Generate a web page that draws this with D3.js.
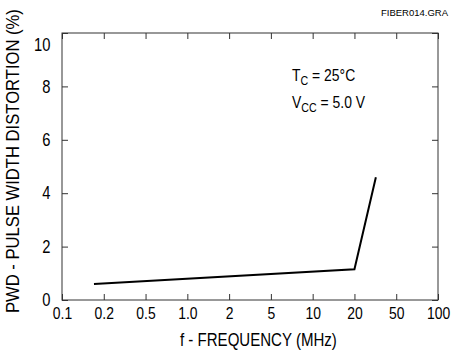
<!DOCTYPE html>
<html lang="en">
<head>
    <meta charset="UTF-8">
    <title>PWD vs Frequency</title>
    <script src="https://d3js.org/d3.v7.min.js"></script>
    <style>
        body {
            margin: 0;
            background-color: #ffffff;
        }
        svg {
            display: block;
            font-family: "Liberation Sans", Arial, Helvetica, sans-serif;
        }
    </style>
</head>
<body>
    <div id="chart"></div>
    <script>
        // tick values on the (log-ish, equally spaced) frequency axis
        const freqTicks = [0.1, 0.2, 0.5, 1, 2, 5, 10, 20, 50, 100];
        const freqLabels = ["0.1", "0.2", "0.5", "1.0", "2", "5", "10", "20", "50", "100"];
        const pwdTicks = [0, 2, 4, 6, 8, 10];

        // curve
        const freqMHz = [0.17, 20, 32];
        const pwdPct = [0.6, 1.15, 4.6];

        const width = 454, height = 351;
        const margin = {top: 33, right: 16, bottom: 51, left: 62};
        const innerW = width - margin.left - margin.right;
        const innerH = height - margin.top - margin.bottom;
        const narrow = "scale(0.82,1)"; // fake a condensed face

        const svg = d3.select("#chart").append("svg")
            .attr("width", width)
            .attr("height", height);

        const g = svg.append("g")
            .attr("transform", `translate(${margin.left},${margin.top})`);

        // each decade step gets the same width, log in between
        const x = d3.scaleLog()
            .domain(freqTicks)
            .range(freqTicks.map((d, i) => i * innerW / (freqTicks.length - 1)));

        const y = d3.scaleLinear()
            .domain([0, 10])
            .range([innerH, 0]);

        const tick = 6;

        const xBottom = g.append("g")
            .attr("transform", `translate(0,${innerH})`)
            .call(d3.axisBottom(x).tickValues(freqTicks)
                .tickFormat((d, i) => freqLabels[i])
                .tickSize(-tick).tickPadding(7));

        g.append("g")
            .call(d3.axisTop(x).tickValues(freqTicks).tickFormat("").tickSize(-tick));

        const yLeft = g.append("g")
            .call(d3.axisLeft(y).tickValues(pwdTicks).tickSize(-tick).tickPadding(14));

        g.append("g")
            .attr("transform", `translate(${innerW},0)`)
            .call(d3.axisRight(y).tickValues(pwdTicks).tickFormat("").tickSize(-tick));

        g.selectAll(".domain").remove();
        g.selectAll(".tick line").attr("stroke", "#333");

        xBottom.selectAll("text")
            .attr("font-size", 17)
            .attr("fill", "#000")
            .attr("transform", narrow);

        yLeft.selectAll("text")
            .attr("font-size", 18)
            .attr("fill", "#000")
            .attr("transform", narrow);
        // top label sits a bit lower than its tick
        yLeft.selectAll(".tick").filter(d => d === 10).select("text").attr("dy", "0.95em");

        // frame
        g.append("rect")
            .attr("width", innerW)
            .attr("height", innerH)
            .attr("fill", "none")
            .attr("stroke", "#333")
            .attr("stroke-width", 1);

        const line = d3.line()
            .x(i => x(freqMHz[i]))
            .y(i => y(pwdPct[i]));

        g.append("path")
            .attr("d", line(d3.range(freqMHz.length)))
            .attr("fill", "none")
            .attr("stroke", "#000")
            .attr("stroke-width", 2);

        // conditions note
        const note = g.append("g")
            .attr("transform", `translate(230,0) ${narrow}`)
            .attr("font-size", 17)
            .attr("fill", "#000");
        const t1 = note.append("text").attr("y", 48);
        t1.append("tspan").text("T");
        t1.append("tspan").attr("font-size", 13).attr("dy", 4).text("C");
        t1.append("tspan").attr("dy", -4).text(" = 25°C");
        const t2 = note.append("text").attr("y", 75);
        t2.append("tspan").text("V");
        t2.append("tspan").attr("font-size", 13).attr("dy", 4).text("CC");
        t2.append("tspan").attr("dy", -4).text(" = 5.0 V");

        // axis titles, squeezed to the reference widths
        const xTitle = svg.append("text")
            .attr("font-size", 19)
            .text("f - FREQUENCY (MHz)");
        const kx = 157 / xTitle.node().getComputedTextLength();
        xTitle.attr("transform", `translate(180,346) scale(${kx},1)`);

        const yTitle = svg.append("text")
            .attr("font-size", 18)
            .text("PWD - PULSE WIDTH DISTORTION (%)");
        const ky = 304 / yTitle.node().getComputedTextLength();
        yTitle.attr("transform", `translate(19,313) rotate(-90) scale(${ky},1)`);

        svg.append("text")
            .attr("x", 381)
            .attr("y", 16)
            .attr("font-size", 9.5)
            .text("FIBER014.GRA");
    </script>
</body>
</html>
